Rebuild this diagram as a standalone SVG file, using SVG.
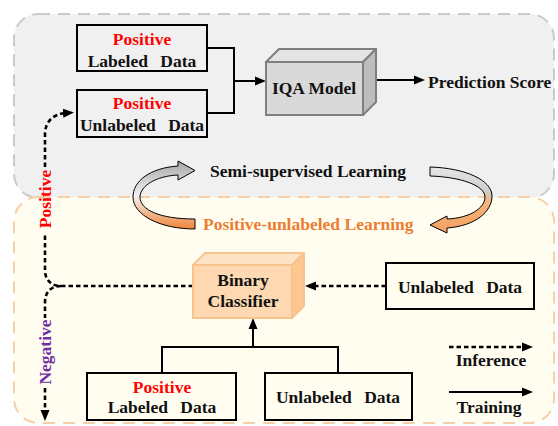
<svg xmlns="http://www.w3.org/2000/svg" width="558" height="426" viewBox="0 0 558 426">
<style>
text{font-family:"Liberation Serif","Times New Roman",serif;font-weight:bold;font-size:17.5px;fill:#111}
.red{fill:#ff0000}
.org{fill:#ed7d31}
.pur{fill:#7030a0}
.mid{text-anchor:middle}
.box{fill:none;stroke:#000;stroke-width:2}
.ln{fill:none;stroke:#000;stroke-width:2}
.dash{fill:none;stroke:#000;stroke-width:2.6;stroke-dasharray:4.5 3}
</style>
<defs>
<marker id="ah" markerUnits="userSpaceOnUse" markerWidth="11" markerHeight="10" viewBox="0 0 11 10" refX="3" refY="5" orient="auto">
<path d="M0,0.5 L11,5 L0,9.5 z" fill="#000"/>
</marker>
<linearGradient id="gL" x1="0" y1="0" x2="0" y2="1">
<stop offset="0" stop-color="#a6a6a6"/>
<stop offset="0.5" stop-color="#f2f2f2"/>
<stop offset="1" stop-color="#f0843a"/>
</linearGradient>
<linearGradient id="gR" x1="0" y1="0" x2="0" y2="1">
<stop offset="0" stop-color="#e6e6e6"/>
<stop offset="0.35" stop-color="#cfcfcf"/>
<stop offset="0.55" stop-color="#f6b47a"/>
<stop offset="1" stop-color="#f4a060"/>
</linearGradient>
</defs>

<g id="panels">
<rect x="14" y="14" width="540" height="184" rx="24" fill="#f0f0f0" stroke="#cacaca" stroke-width="2" stroke-dasharray="12 8"/>
<rect x="14" y="197" width="540" height="226" rx="24" fill="#fffdf0" stroke="#f4cfa8" stroke-width="2" stroke-dasharray="12 8"/>
</g>

<g id="connectors">
<path class="ln" d="M207,48 L234,48 L234,113 L207,113"/>
<path class="ln" d="M234,81 L258,81" marker-end="url(#ah)"/>
<path class="ln" d="M376,80 L417,80" marker-end="url(#ah)"/>
<path class="dash" d="M386,286 L313,286" marker-end="url(#ah)"/>
<path class="ln" d="M162,373 L162,347 L338,347 L338,373"/>
<path class="ln" d="M253,347 L253,326" marker-end="url(#ah)"/>
<path class="dash" d="M193,286 L61,286 C51,286 45,280 45,270 L45,234"/>
<path class="dash" d="M45,167 L45,134 C45,122 53,114 66,113" marker-end="url(#ah)"/>
<path class="dash" d="M61,286 C51,286 45,292 45,302 L45,318"/>
<path class="dash" d="M45,388 L45,413" marker-end="url(#ah)"/>
<path class="dash" d="M449,347 L525,347" marker-end="url(#ah)"/>
<path class="ln" d="M449,392 L525,392" marker-end="url(#ah)"/>
</g>

<g id="cycle">
<path d="M195,219 L195,229 C160,229 133,215 133,197 C133,181 150,168 178,166 L178,161 L195,170.5 L178,180 L178,175 C156,176 140,186 140,197 C140,210 160,219 195,219 Z" fill="url(#gL)" stroke="#000" stroke-width="1"/>
<path d="M430,167 C465,168 492,180 492,196 C492,212 475,226 447,228 L447,233 L430,225 L447,216 L447,219 C470,218 485,208 485,197 C485,186 462,177 430,176 Z" fill="url(#gR)" stroke="#000" stroke-width="1"/>
<text x="210" y="177">Semi-supervised Learning</text>
<text class="org" x="203" y="230">Positive-unlabeled Learning</text>
</g>

<g id="pos-labeled-top">
<rect class="box" x="77" y="25" width="130" height="46"/>
<text class="mid red" x="142" y="45">Positive</text>
<text class="mid" x="142" y="67" word-spacing="8">Labeled Data</text>
</g>

<g id="pos-unlabeled-top">
<rect class="box" x="77" y="90" width="130" height="47"/>
<text class="mid red" x="142" y="109">Positive</text>
<text class="mid" x="142" y="131" word-spacing="8">Unlabeled Data</text>
</g>

<g id="iqa-model">
<polygon points="266,62 279,49 376,49 363,62" fill="#e4e4e4" stroke="#7f7f7f" stroke-width="2" stroke-linejoin="round"/>
<polygon points="363,62 376,49 376,102 363,115" fill="#bdbdbd" stroke="#7f7f7f" stroke-width="2" stroke-linejoin="round"/>
<rect x="266" y="62" width="97" height="53" fill="#d9d9d9" stroke="#7f7f7f" stroke-width="2"/>
<text class="mid" x="314" y="94">IQA Model</text>
</g>

<g id="prediction-score">
<text x="428" y="88">Prediction Score</text>
</g>

<g id="binary-classifier">
<polygon points="193,265 205,253 304,253 292,265" fill="#fee3c6" stroke="#f9c38e" stroke-width="2" stroke-linejoin="round"/>
<polygon points="292,265 304,253 304,306 292,318" fill="#fdc890" stroke="#f9c38e" stroke-width="2" stroke-linejoin="round"/>
<rect x="193" y="265" width="99" height="53" fill="#fdd8b0" stroke="#f9c38e" stroke-width="2"/>
<text class="mid" x="243" y="286">Binary</text>
<text class="mid" x="243" y="307">Classifier</text>
</g>

<g id="unlabeled-right">
<rect class="box" x="386" y="263" width="148" height="46"/>
<text class="mid" x="460" y="293" word-spacing="8">Unlabeled Data</text>
</g>

<g id="pos-labeled-bottom">
<rect class="box" x="87" y="373" width="149" height="47"/>
<text class="mid red" x="162" y="393">Positive</text>
<text class="mid" x="162" y="413" word-spacing="8">Labeled Data</text>
</g>

<g id="unlabeled-bottom">
<rect class="box" x="265" y="373" width="147" height="47"/>
<text class="mid" x="338" y="403" word-spacing="8">Unlabeled Data</text>
</g>

<g id="side-labels">
<text class="mid red" transform="translate(51,199) rotate(-90)">Positive</text>
<text class="mid pur" transform="translate(51,352) rotate(-90)">Negative</text>
</g>

<g id="legend">
<text class="mid" x="491" y="366">Inference</text>
<text class="mid" x="489" y="413">Training</text>
</g>
</svg>
